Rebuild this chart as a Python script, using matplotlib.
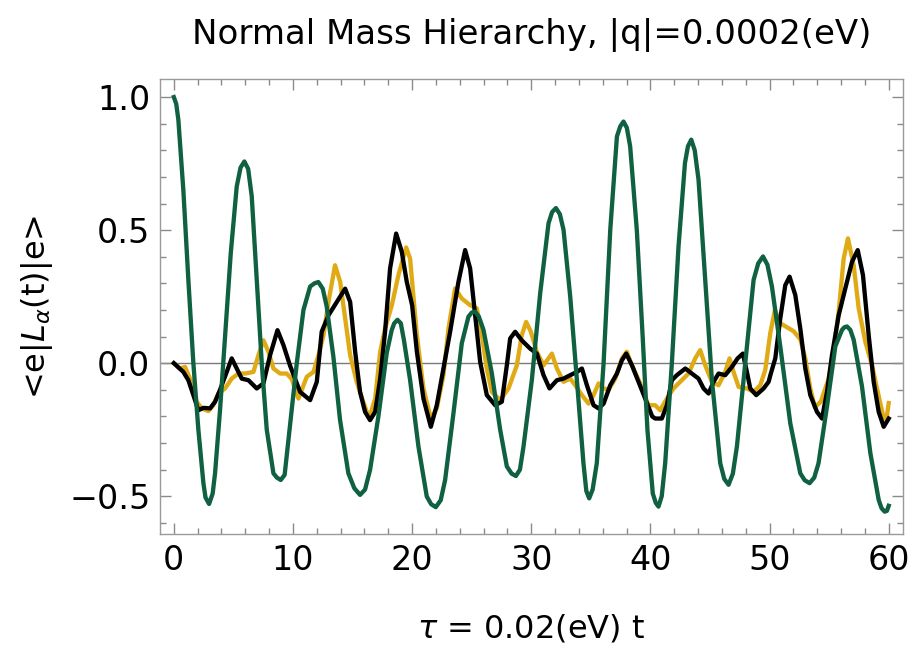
import numpy as np
import matplotlib.pyplot as plt
from matplotlib.ticker import MultipleLocator

# --- data ---
t_yellow = [0, 0.52, 0.94, 1.36, 1.92, 2.34, 2.9, 3.32, 3.74, 4.3, 4.86, 5.42, 5.98, 6.68,
            7.1, 7.52, 7.94, 8.36, 8.92, 9.48, 9.9, 10.46, 11.16, 11.72, 12.14, 12.56, 12.98,
            13.53, 13.96, 14.38, 14.8, 15.35, 15.9, 16.39, 16.9, 17.32, 17.73, 18.3, 18.85,
            19.5, 19.83, 20.4, 20.95, 21.57, 22.07, 22.63, 23.05, 23.61, 24.17, 24.87, 25.43,
            25.85, 26.27, 26.69, 27.39, 28.09, 28.79, 29.2, 29.57, 29.95, 30.47, 31.03, 31.73,
            32.15, 32.71, 33.27, 33.69, 34.25, 34.81, 35.23, 35.65, 36.07, 36.49, 37.05, 37.61,
            38.02, 38.45, 39.14, 39.84, 40.4, 40.82, 41.38, 41.94, 42.5, 43.2, 43.76, 44.18,
            44.6, 45.16, 45.72, 46.28, 46.64, 46.98, 47.4, 48.1, 48.66, 49.22, 49.64, 50.06,
            50.45, 50.9, 51.46, 52.02, 52.58, 53.0, 53.42, 53.8, 54.3, 54.96, 55.38, 55.8,
            56.22, 56.58, 57.06, 57.48, 58.04, 58.6, 59.02, 59.58, 59.86, 60.0]
v_yellow = [0, -0.02, -0.014, -0.058, -0.145, -0.17, -0.18, -0.158, -0.114, -0.095, -0.058,
            -0.039, -0.039, -0.033, 0.03, 0.086, 0.043, -0.02, -0.039, -0.039, -0.06, -0.133,
            -0.051, -0.033, 0.03, 0.105, 0.23, 0.368, 0.306, 0.168, 0.03, -0.07, -0.145, -0.208,
            -0.133, 0.043, 0.13, 0.218, 0.331, 0.435, 0.393, 0.105, -0.095, -0.208, -0.17,
            -0.045, 0.13, 0.281, 0.243, 0.218, 0.206, 0.105, -0.02, -0.108, -0.139, -0.095,
            -0.008, 0.105, 0.155, 0.12, 0.043, -0.008, 0.036, -0.02, -0.07, -0.058, -0.083,
            -0.12, -0.152, -0.12, -0.076, -0.095, -0.10, -0.058, 0.018, 0.043, -0.008, -0.076,
            -0.158, -0.158, -0.177, -0.133, -0.095, -0.07, -0.039, 0.018, 0.049, -0.008, -0.07,
            -0.083, -0.033, 0.018, -0.033, -0.089, -0.095, -0.108, -0.083, -0.025, 0.113,
            0.2, 0.15, 0.135, 0.12, 0.09, 0.018, -0.095, -0.165, -0.145, -0.058, 0.043, 0.193,
            0.393, 0.469, 0.368, 0.206, 0.08, -0.008, -0.095, -0.208, -0.195, -0.15]

t_black = [0, 0.8, 1.22, 1.64, 2.06, 2.48, 3.04, 3.46, 3.88, 4.44, 4.86, 5.28, 5.7, 6.26,
           6.96, 7.52, 8.08, 8.7, 9.2, 9.76, 10.6, 11.44, 12.0, 12.41, 12.98, 13.68, 14.38,
           14.8, 15.22, 15.63, 16.05, 16.47, 16.9, 17.32, 17.73, 18.15, 18.66, 19.13, 19.55,
           20.0, 20.4, 20.95, 21.57, 22.07, 22.63, 23.19, 23.89, 24.45, 24.87, 25.29, 25.71,
           26.27, 26.97, 27.53, 27.95, 28.23, 28.65, 29.2, 29.9, 30.47, 31.03, 31.53, 32.15,
           32.71, 33.27, 33.83, 34.25, 34.67, 35.23, 35.65, 36.07, 36.63, 37.19, 37.61, 37.97,
           38.45, 39.0, 39.56, 40.15, 40.4, 40.96, 41.38, 41.8, 42.22, 42.93, 43.48, 44.04,
           44.46, 44.88, 45.3, 45.72, 46.28, 46.84, 47.32, 47.76, 48.1, 48.38, 48.88, 49.5,
           49.92, 50.1, 50.48, 50.9, 51.32, 51.68, 52.16, 52.58, 53.0, 53.42, 53.98, 54.4,
           54.82, 55.24, 55.8, 56.36, 56.92, 57.4, 57.84, 58.32, 58.74, 59.16, 59.58, 60.0]
v_black = [0, -0.033, -0.064, -0.12, -0.177, -0.168, -0.17, -0.145, -0.10, -0.033, 0.018,
           -0.02, -0.058, -0.064, -0.095, -0.076, 0.03, 0.124, 0.068, -0.01, -0.108, -0.139,
           -0.07, 0.118, 0.18, 0.23, 0.28, 0.23, 0.043, -0.108, -0.183, -0.214, -0.183, -0.058,
           0.118, 0.356, 0.487, 0.419, 0.306, 0.218, 0.043, -0.133, -0.239, -0.158, -0.02,
           0.118, 0.306, 0.425, 0.356, 0.18, 0.005, -0.12, -0.158, -0.145, -0.008, 0.093,
           0.118, 0.086, 0.055, 0.036, -0.045, -0.095, -0.064, -0.058, -0.045, -0.033, -0.02,
           -0.083, -0.158, -0.17, -0.152, -0.083, -0.039, 0.011, 0.036, -0.008, -0.07, -0.133,
           -0.2, -0.208, -0.208, -0.158, -0.064, -0.045, -0.02, -0.039, -0.058, -0.095, -0.114,
           -0.07, -0.039, -0.045, -0.014, 0.018, 0.036, -0.033, -0.095, -0.12, -0.095, -0.07,
           -0.04, 0.018, 0.168, 0.293, 0.325, 0.256, 0.13, -0.02, -0.12, -0.183, -0.208,
           -0.108, 0.03, 0.18, 0.281, 0.381, 0.425, 0.331, 0.105, -0.07, -0.183, -0.239, -0.208]

t_green = [0, 0.2, 0.38, 0.8, 1.22, 1.64, 2.06, 2.48, 2.66, 2.96, 3.26, 3.46, 3.88, 4.3,
           4.78, 5.28, 5.6, 5.92, 6.24, 6.54, 6.96, 7.38, 7.8, 8.36, 8.65, 8.97, 9.3, 9.62,
           10.32, 10.88, 11.44, 11.8, 12.13, 12.5, 12.83, 13.39, 13.95, 14.65, 15.15, 15.63,
           16.05, 16.47, 17.17, 17.87, 18.29, 18.5, 18.77, 19.05, 19.3, 19.83, 20.53, 21.23,
           21.6, 21.99, 22.4, 22.77, 23.47, 24.17, 24.73, 25.0, 25.29, 25.6, 25.99, 26.69,
           27.39, 27.95, 28.35, 28.71, 29.05, 29.35, 30.05, 30.75, 31.45, 31.75, 32.07, 32.4,
           32.71, 33.27, 33.83, 34.38, 34.62, 34.86, 35.15, 35.5, 36.07, 36.63, 37.19, 37.47,
           37.74, 38.02, 38.3, 38.86, 39.35, 39.75, 40.2, 40.45, 40.68, 40.95, 41.24, 41.8,
           42.36, 42.9, 43.15, 43.43, 43.72, 44.04, 44.6, 45.16, 45.86, 46.2, 46.56, 46.92,
           47.26, 47.96, 48.66, 49.05, 49.45, 49.82, 50.2, 50.9, 51.74, 52.58, 52.95, 53.36,
           53.75, 54.11, 54.82, 55.52, 56.08, 56.28, 56.5, 56.78, 57.06, 57.76, 58.46, 59.16,
           59.4, 59.66, 59.85, 60.0]
v_green = [1.0, 0.975, 0.915, 0.65, 0.313, 0, -0.25, -0.45, -0.505, -0.529, -0.49, -0.414,
           -0.175, 0.1, 0.414, 0.664, 0.735, 0.758, 0.73, 0.627, 0.313, 0, -0.25, -0.414,
           -0.43, -0.439, -0.42, -0.288, 0, 0.2, 0.288, 0.30, 0.305, 0.28, 0.213, 0.025,
           -0.213, -0.414, -0.47, -0.495, -0.475, -0.401, -0.2, 0.038, 0.125, 0.15, 0.163,
           0.15, 0.09, -0.063, -0.313, -0.501, -0.53, -0.541, -0.515, -0.439, -0.188, 0.075,
           0.175, 0.19, 0.194, 0.175, 0.125, -0.038, -0.25, -0.388, -0.415, -0.424, -0.40,
           -0.313, -0.063, 0.263, 0.526, 0.568, 0.583, 0.56, 0.501, 0.25, -0.063, -0.376,
           -0.48, -0.508, -0.475, -0.376, 0, 0.501, 0.852, 0.89, 0.908, 0.885, 0.815, 0.5,
           0.1, -0.25, -0.49, -0.525, -0.539, -0.5, -0.376, 0, 0.439, 0.752, 0.815, 0.84, 0.8,
           0.689, 0.313, -0.063, -0.376, -0.435, -0.457, -0.415, -0.313, 0, 0.313, 0.375,
           0.401, 0.37, 0.288, 0.063, -0.226, -0.414, -0.44, -0.451, -0.43, -0.376, -0.163,
           0.063, 0.125, 0.135, 0.138, 0.125, 0.088, -0.088, -0.338, -0.514, -0.545, -0.558,
           -0.555, -0.536]

x_ticks = [0, 10, 20, 30, 40, 50, 60]
y_ticks = [-0.5, 0.0, 0.5, 1.0]

plt.rcParams['font.family'] = ['DejaVu Sans']
plt.rcParams['mathtext.fontset'] = 'dejavusans'

fig = plt.figure(figsize=(9.14, 6.55), dpi=100)
ax = fig.add_axes([160 / 914, 121 / 655, 743 / 914, 455 / 655])

ax.axhline(0, color='#7a7a7a', lw=1.0, zorder=1)
ax.plot(t_yellow, v_yellow, color='#e0aa14', lw=3.1, solid_joinstyle='round', zorder=2)
ax.plot(t_black, v_black, color='black', lw=3.1, solid_joinstyle='round', zorder=3)
ax.plot(t_green, v_green, color='#0f6141', lw=3.1, solid_joinstyle='round', zorder=4)

ax.set_xlim(-1.16, 61.2)
ax.set_ylim(-0.642, 1.068)
ax.set_xticks(x_ticks)
ax.set_yticks(y_ticks)
ax.set_yticklabels(['−0.5', '0.0', '0.5', '1.0'])
ax.xaxis.set_minor_locator(MultipleLocator(2))
ax.yaxis.set_minor_locator(MultipleLocator(0.1))
ax.tick_params(which='both', direction='in', top=True, right=True, color='#8a8a8a',
               labelsize=24, width=1.0)
ax.tick_params(which='major', length=8, pad=7)
ax.tick_params(which='minor', length=4.5)
for s in ax.spines.values():
    s.set_color('#9a9a9a')
    s.set_linewidth(1.0)

ax.set_xlabel(r'$\tau$ = 0.02(eV) t', fontsize=23, labelpad=26)
ax.set_ylabel(r'<e|$L_\alpha$(t)|e>', fontsize=23, labelpad=10)
ax.set_title('Normal Mass Hierarchy, |q|=0.0002(eV)', fontsize=24.5, pad=25)

fig.savefig('out.png', dpi=100)
